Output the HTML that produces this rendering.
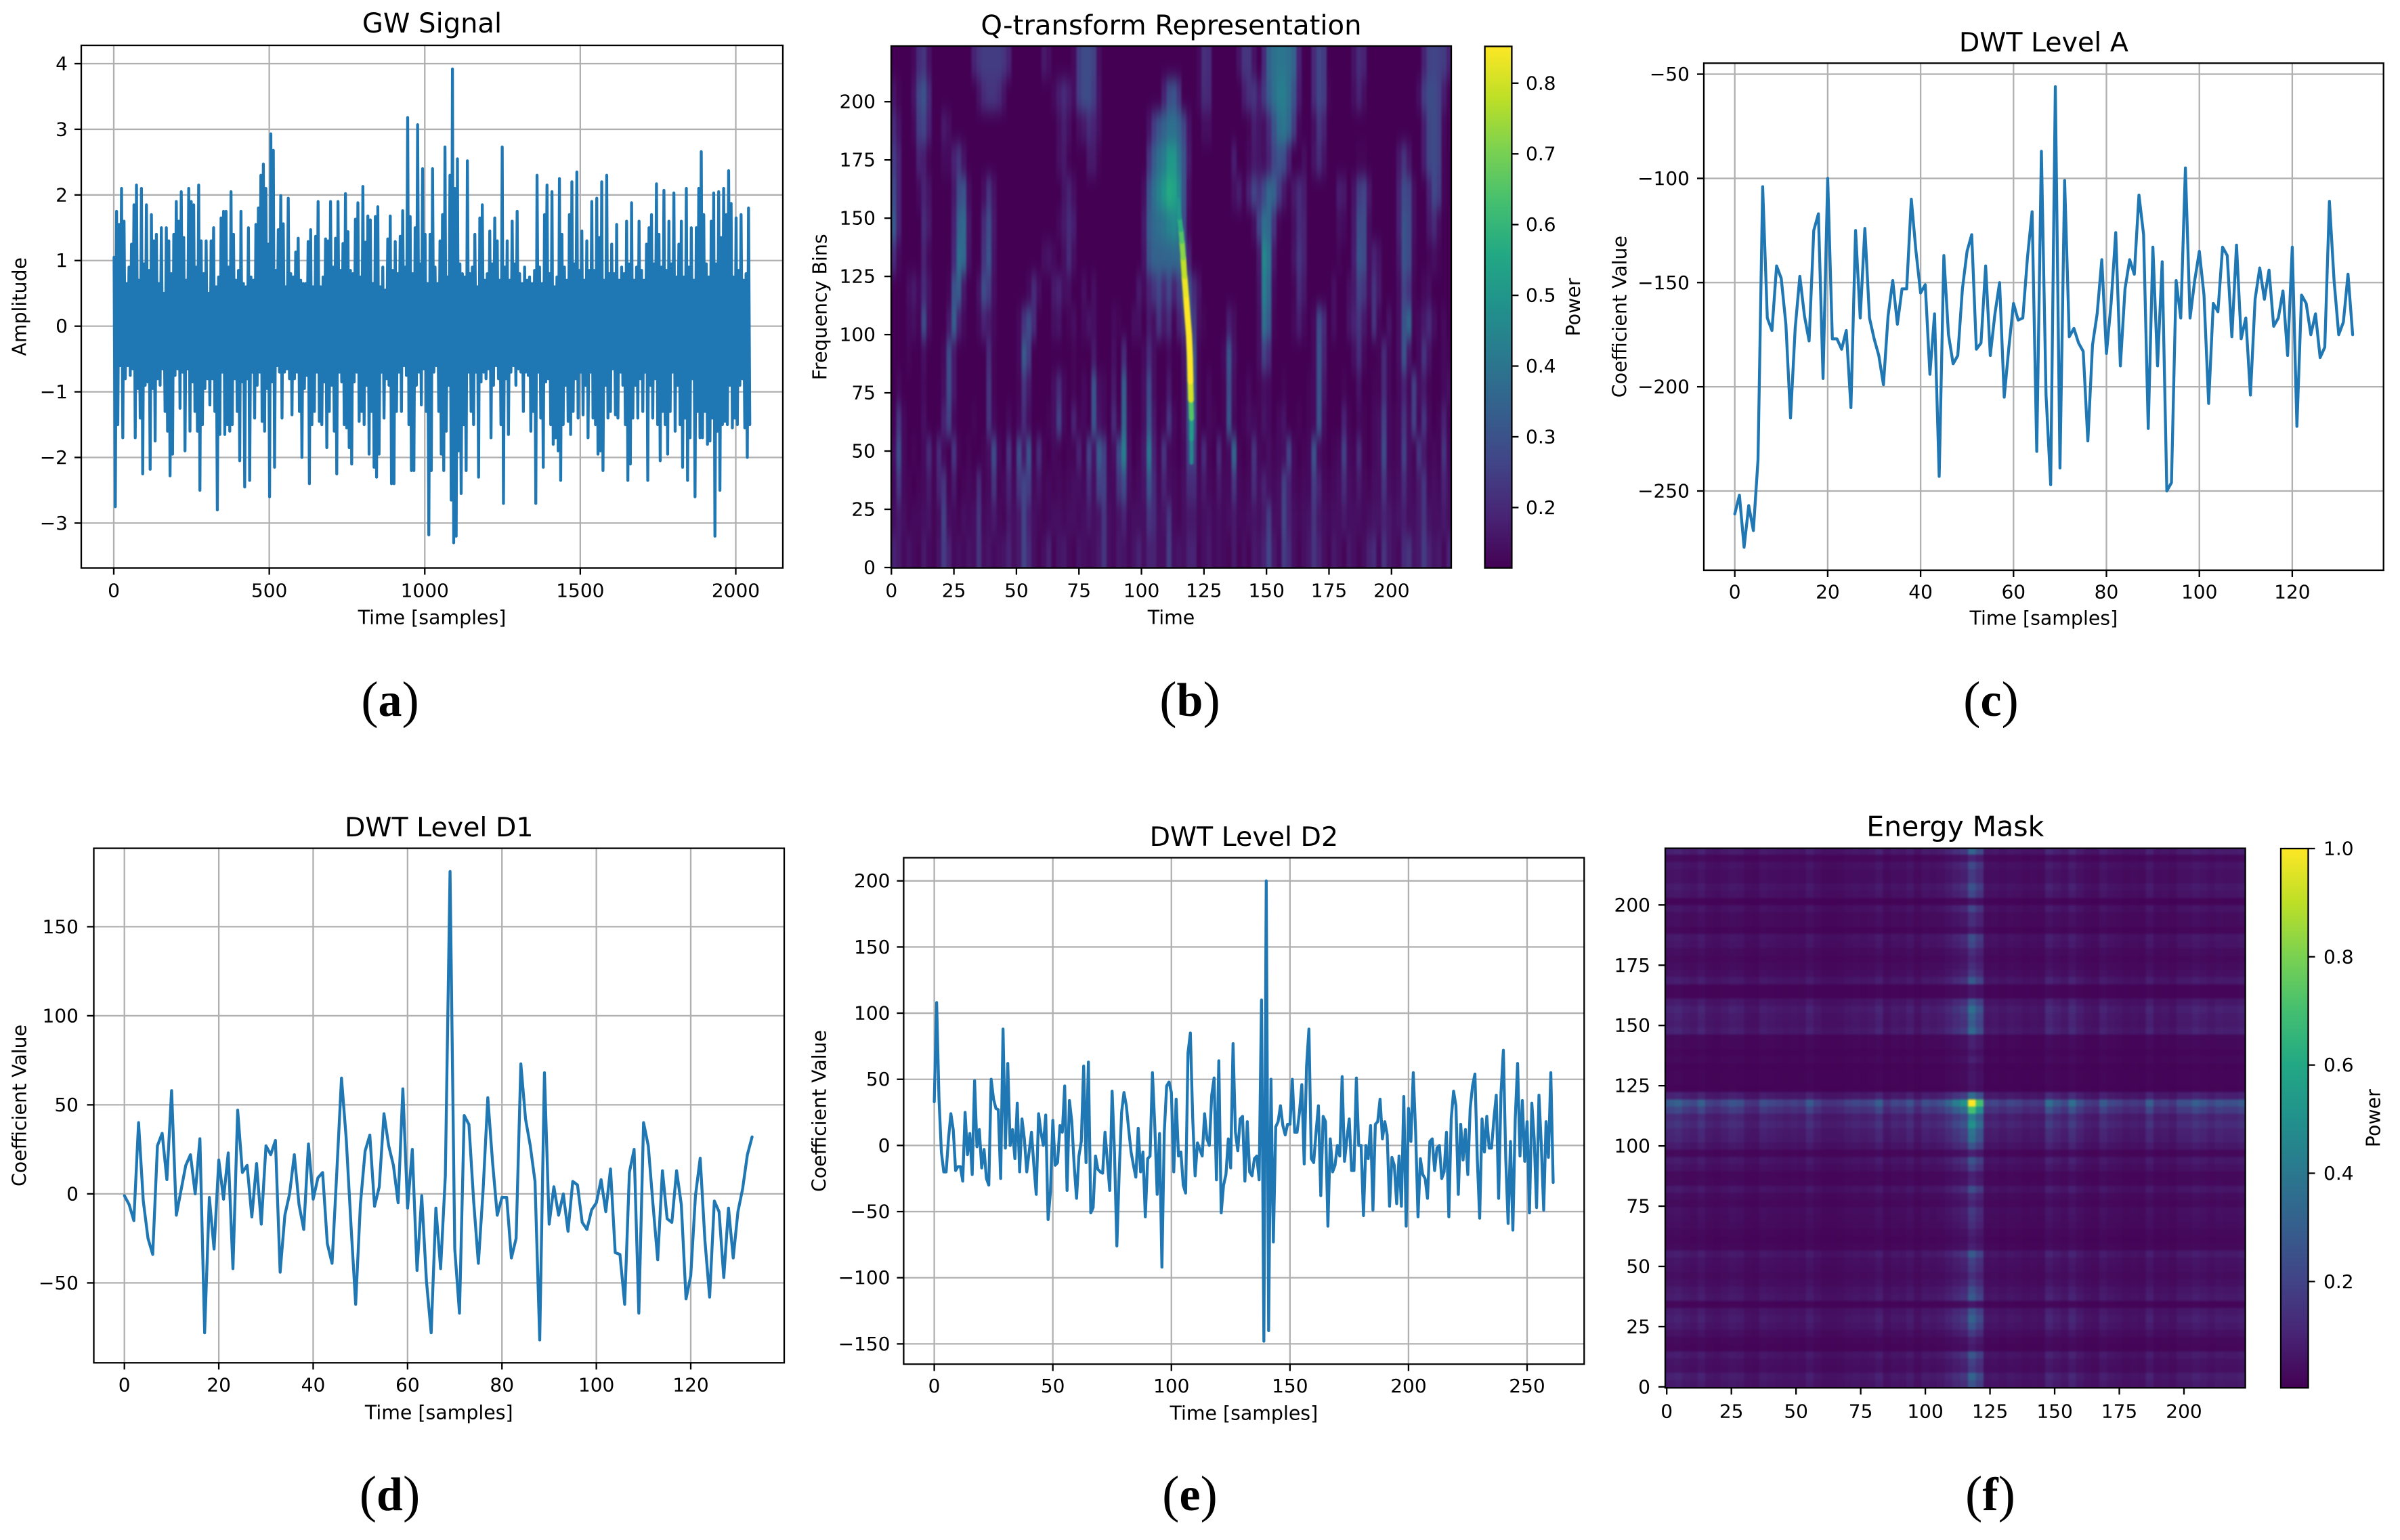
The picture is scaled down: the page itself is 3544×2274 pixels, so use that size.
<!DOCTYPE html>
<html lang="en">
<head>
<meta charset="utf-8">
<title>GW signal panels</title>
<style>
html,body{margin:0;padding:0;background:#fff;}
svg{display:block;}
text{font-family:"DejaVu Sans","Liberation Sans",sans-serif;fill:#000;}
.cap{font-family:"Liberation Serif","DejaVu Serif",serif;}
</style>
</head>
<body>
<svg id="figure" xmlns="http://www.w3.org/2000/svg" width="3544" height="2274" viewBox="0 0 3544 2274">
<defs>
<linearGradient id="viridis-grad" x1="0" y1="1" x2="0" y2="0">
<stop offset="0" stop-color="#440154"/><stop offset="0.1" stop-color="#482475"/><stop offset="0.2" stop-color="#414487"/><stop offset="0.3" stop-color="#355f8d"/><stop offset="0.4" stop-color="#2a788e"/><stop offset="0.5" stop-color="#21918c"/><stop offset="0.6" stop-color="#22a884"/><stop offset="0.7" stop-color="#44bf70"/><stop offset="0.8" stop-color="#7ad151"/><stop offset="0.9" stop-color="#bddf26"/><stop offset="1" stop-color="#fde725"/>
</linearGradient>
<filter id="q-blur" filterUnits="userSpaceOnUse" x="1200" y="0" width="1050" height="950" color-interpolation-filters="sRGB"><feGaussianBlur stdDeviation="1.2 12"/></filter>
<filter id="chirp-blur" filterUnits="userSpaceOnUse" x="1200" y="0" width="1050" height="950" color-interpolation-filters="sRGB"><feGaussianBlur stdDeviation="1.1 1.1"/></filter>
<filter id="mask-blur" filterUnits="userSpaceOnUse" x="2400" y="1200" width="1000" height="900" color-interpolation-filters="sRGB"><feGaussianBlur stdDeviation="1.2 1.2"/></filter>
<clipPath id="clip-q"><rect x="1316" y="68" width="827" height="771"/></clipPath>
<clipPath id="clip-mask"><rect x="2459" y="1253" width="857" height="796"/></clipPath>
</defs>
</svg>
<script>
// ---------- panel (a): GW signal, amplitude extremes read per 8-sample window ----------
const signalUpper = [
1.05,1.75,1.55,2.1,1.6,.65,.9,1.25,1.85,2.15,.7,2.1,.95,1.85,.85,1.7,1.3,1.4,.65,1.5,
.5,1.5,1.3,.8,1.4,1.9,1.6,2.05,1.35,.7,2.1,1.9,1.85,.9,2.15,1.3,.8,1.3,.5,1.3,
1.5,.6,.75,1.65,1.75,1.75,.9,2.05,1.4,.7,.85,1.75,.65,.6,1.5,.75,.7,1.55,1.8,2.3,
2.47,2.1,1.25,2.93,2.68,.85,1.47,1.99,1.56,.6,1.95,.8,.75,1.13,1.34,.7,.65,.65,1.29,1.47,
.6,1.37,1.9,.6,.75,1.33,1.3,1.9,.9,1.34,1.9,.85,1.26,2.02,1.44,.85,.8,1.63,1.88,.75,
2.13,1.28,1.68,1.62,.65,1.67,1.82,.6,.9,.55,1.33,1.68,.85,1.29,.8,1.37,1.76,.9,3.18,1.67,
.8,1.5,3.07,.95,2.4,1.4,.65,1.4,2.4,.9,.65,1.3,1.7,2.73,.75,2.3,3.92,2.1,2.55,.95,
.8,.75,2.52,.8,.9,1.4,.6,1.65,1.85,.7,.8,1.45,.95,1.65,1.3,.7,2.73,.9,1.3,.7,
1.6,.95,1.75,.8,.65,.9,.7,.75,.65,.85,2.3,.9,.65,1.7,2.15,.8,2.05,.6,.75,2.25,
1.4,.9,.7,1.7,2.2,.95,2.35,.85,1.45,.7,1.3,.85,1.9,.85,1.95,1.35,2.2,.7,2.3,.8,
1.25,.8,1.55,.7,.9,.8,1.6,.95,1.88,.7,.9,1.6,.85,.7,1.25,1.5,1.7,.95,2.17,1.4,
.9,2.07,.85,1.6,.95,2.03,.75,1.25,1.6,.75,2.1,.9,1.5,.7,1.5,2.1,2.66,1.7,.95,.75,
1.6,2.03,.95,2.05,1.35,2.1,1.7,2.37,1.87,.75,1.65,.85,1.7,.7,.8,1.8];
const signalLower = [
-2.75,-1.5,-.6,-1.7,-.8,-.6,-.75,-.65,-1.7,-.95,-1.4,-2.25,-.9,-.85,-2.18,-.95,-1.75,-.8,-.9,-.65,
-1.3,-1.6,-2.28,-1.95,-.75,-.65,-1.25,-.7,-1.9,-.65,-1.6,-.85,-1.3,-1.6,-2.5,-1.5,-.95,-.8,-1.2,-.8,
-1.3,-2.8,-1.65,-.7,-1.65,-1.5,-1.6,-1.5,-.8,-1.3,-2.05,-.85,-2.45,-.8,-2.35,-.7,-1.4,-.9,-.7,-1.45,
-1.6,-.95,-2.6,-.85,-2.15,-.6,-.7,-1.4,-.7,-.65,-.8,-1.35,-.8,-.7,-1.3,-2.0,-.95,-.75,-2.4,-1.5,
-1.3,-.7,-1.45,-1.5,-.85,-1.85,-1.3,-.9,-1.6,-2.25,-.7,-.85,-1.5,-1.55,-1.85,-2.1,-.85,-.7,-1.45,-1.3,
-1.5,-.9,-1.95,-1.3,-2.15,-2.3,-1.95,-.7,-1.4,-.8,-.9,-2.4,-2.4,-1.3,-.7,-1.3,-.6,-.75,-1.5,-2.2,
-2.2,-.9,-.7,-1.2,-.65,-1.3,-3.18,-2.2,-.7,-.6,-1.3,-1.95,-2.2,-1.6,-.9,-2.65,-3.3,-3.2,-1.9,-2.55,
-1.5,-2.2,-.7,-1.3,-1.5,-.7,-2.3,-.85,-.7,-.8,-.65,-1.7,-.9,-.6,-.8,-1.5,-2.7,-.8,-1.65,-.7,
-.6,-.9,-.65,-.7,-1.3,-.7,-.75,-1.6,-1.3,-2.7,-.7,-1.4,-2.15,-.85,-.8,-1.5,-1.8,-1.7,-1.9,-2.35,
-1.5,-.9,-1.45,-1.65,-1.3,-.8,-1.4,-.7,-1.35,-.9,-1.7,-.7,-1.4,-1.5,-1.95,-1.9,-2.2,-.9,-1.4,-1.3,
-.65,-1.35,-1.4,-.7,-.9,-1.5,-2.35,-2.1,-1.4,-.9,-1.4,-.8,-1.3,-.7,-2.35,-.9,-1.4,-.8,-1.5,-2.05,
-1.3,-1.5,-1.95,-1.3,-.7,-1.6,-.9,-1.5,-2.15,-1.4,-2.35,-1.7,-.8,-2.6,-1.3,-1.7,-1.7,-1.3,-1.8,-1.75,
-1.4,-3.2,-1.6,-2.5,-1.5,-1.45,-1.5,-.9,-1.55,-1.4,-1.5,-.9,-.8,-1.55,-2.0,-1.5];
const signalXTicks = [0,500,1000,1500,2000];
const signalYTicks = [-3,-2,-1,0,1,2,3,4];

// ---------- panel (b): Q-transform power x100, 16 frequency bands (top to bottom) x 112 time columns ----------
const qPower = [
[11,11,11,11,13,20,22,15,11,11,11,11,11,11,11,11,18,22,24,24,24,24,22,18,11,11,11,11,11,11,16,14,11,11,11,11,13,24,28,28,25,14,11,11,11,11,11,11,11,11,11,11,11,11,11,11,11,11,11,11,11,13,21,20,11,11,11,11,11,15,22,22,15,11,20,34,38,40,40,38,34,18,11,11,20,26,24,11,11,11,11,11,15,20,18,11,11,11,11,11,11,11,11,11,11,11,18,25,26,25,24,18],
[15,12,11,11,15,26,30,20,11,11,11,11,11,11,11,11,11,15,20,22,22,20,15,11,11,11,11,11,11,11,11,11,13,17,20,17,14,24,28,28,24,15,11,11,11,11,11,11,11,11,11,11,11,11,18,28,30,22,11,11,11,13,20,19,11,11,11,11,11,11,17,21,22,17,23,32,38,42,42,38,30,17,11,11,20,26,24,12,11,11,11,11,14,18,14,11,11,11,11,11,11,11,11,11,11,14,24,28,28,25,17,12],
[20,15,11,11,13,24,26,18,11,11,16,14,11,11,11,11,11,11,11,11,11,11,11,11,11,11,11,11,11,11,11,11,11,14,17,14,11,14,16,20,18,14,11,11,11,11,11,11,11,11,11,15,24,30,34,38,38,34,26,15,11,11,14,14,11,11,11,11,11,11,11,12,17,15,14,20,30,38,40,36,24,13,11,11,14,22,18,11,11,11,11,11,11,11,11,11,11,11,11,11,11,11,11,11,11,11,17,26,28,25,13,11],
[24,18,11,11,11,18,17,12,11,11,13,13,18,22,15,11,11,11,11,11,11,11,11,11,11,11,11,11,11,11,11,11,11,14,16,12,11,11,11,16,16,12,11,11,11,11,11,11,11,11,11,22,32,38,42,50,50,40,30,16,11,11,11,11,11,11,11,11,17,11,11,13,16,15,14,18,26,30,28,18,11,11,14,11,15,20,15,11,11,11,11,11,11,12,12,11,11,11,11,11,11,16,22,16,11,11,17,26,28,25,12,11],
[28,18,11,11,11,13,18,15,11,11,11,11,16,28,30,14,11,11,14,22,15,11,11,11,11,11,11,11,11,11,11,11,11,11,15,18,14,11,11,11,11,11,11,11,11,11,11,11,11,11,14,30,38,44,50,56,54,46,30,14,11,11,11,11,11,11,11,11,14,17,12,18,26,22,28,36,34,24,16,12,16,20,17,11,11,11,11,11,11,17,16,11,15,24,26,16,11,11,11,11,11,18,28,26,14,11,11,18,27,24,12,11],
[32,18,11,11,11,11,20,16,11,11,11,11,18,34,36,16,11,11,20,28,16,11,11,11,11,11,11,11,11,11,11,11,11,13,16,20,17,11,11,11,11,11,11,11,11,11,11,11,11,11,16,32,36,38,40,44,46,42,28,13,11,11,11,11,11,11,11,11,11,11,11,11,14,26,38,36,22,12,11,11,14,20,18,11,11,11,11,11,11,14,13,11,16,28,28,14,11,11,11,11,11,18,30,28,14,11,11,16,20,14,11,11],
[20,13,11,11,11,11,18,13,11,11,11,11,20,38,36,15,11,11,22,30,15,11,11,11,11,11,11,11,11,11,14,15,13,11,14,20,14,11,11,11,11,11,11,11,11,11,11,11,11,11,15,30,34,34,35,35,36,36,34,18,11,11,11,11,11,11,11,11,11,11,11,11,11,16,45,40,16,11,11,11,15,22,18,11,11,11,11,11,11,12,11,11,17,30,28,14,18,15,11,11,11,16,30,28,13,11,11,12,14,12,11,11],
[11,11,11,14,16,13,20,15,11,11,11,12,30,32,16,11,11,15,28,24,14,11,11,11,11,11,11,13,20,14,11,11,16,18,14,14,11,11,14,11,14,11,11,11,11,11,11,11,11,16,13,18,22,26,20,26,18,24,30,30,20,15,11,11,11,11,11,11,11,11,11,11,11,15,42,36,13,11,11,11,12,20,16,11,11,11,11,11,14,11,11,14,16,25,22,14,22,16,11,11,11,14,26,22,12,11,13,14,11,11,11,11],
[11,11,11,13,14,12,28,14,11,11,11,16,33,18,13,11,11,13,18,16,13,11,11,11,11,13,22,28,20,11,11,11,14,15,11,12,14,11,13,15,14,11,11,11,13,12,11,11,14,14,11,16,14,22,16,20,12,18,22,32,24,14,12,11,11,11,11,17,14,11,11,11,11,14,38,32,12,11,11,11,13,17,13,11,13,28,20,11,14,11,11,15,18,22,16,12,22,13,11,15,11,14,30,35,12,13,16,20,14,11,13,11],
[11,11,11,12,11,11,14,11,11,11,13,28,16,11,11,11,11,11,11,20,12,11,11,11,11,13,32,24,11,11,11,11,11,11,11,11,12,11,11,11,16,11,11,11,14,11,20,11,11,11,13,20,14,11,11,13,11,11,15,32,30,12,11,11,11,11,13,30,15,11,11,11,11,14,25,20,11,11,11,11,11,11,11,11,13,30,18,11,11,11,11,11,14,20,13,11,11,12,20,13,11,14,30,16,11,13,22,15,11,11,13,12],
[11,13,11,11,11,11,13,11,11,11,14,28,16,11,11,11,11,11,11,22,12,11,11,11,11,12,22,16,11,11,11,11,14,20,13,11,12,11,13,11,30,14,13,11,16,11,33,12,11,11,14,27,14,11,11,16,11,11,14,30,30,12,11,13,11,11,12,28,14,11,11,13,11,12,14,13,11,11,12,11,11,11,11,12,13,30,16,11,11,11,12,11,11,15,11,11,12,12,20,13,11,13,18,13,25,14,16,12,11,11,13,14],
[12,22,13,11,11,11,14,11,11,11,18,25,13,11,11,11,12,11,11,22,13,11,11,13,11,13,20,14,11,11,11,12,14,25,13,11,18,12,13,11,30,15,13,11,20,12,35,13,11,11,14,30,16,11,12,22,13,11,14,30,30,12,11,13,12,11,12,30,13,11,12,14,13,12,15,13,11,13,15,11,11,12,11,12,13,30,14,11,11,11,18,12,11,13,12,11,13,14,25,13,12,13,22,14,25,13,22,13,11,12,18,12],
[14,28,13,11,12,11,13,20,12,20,13,11,22,12,11,12,11,11,12,14,28,13,11,22,12,28,16,30,12,20,12,11,13,12,11,12,12,18,12,25,15,32,25,12,14,28,42,14,11,12,16,40,18,12,22,13,12,11,13,25,25,12,20,12,11,20,12,13,35,12,11,12,22,13,12,14,12,13,14,25,13,11,12,13,30,14,12,11,12,13,25,13,12,20,12,11,13,14,28,13,12,13,25,14,12,22,16,12,13,12,22,13],
[13,22,13,12,11,12,13,16,12,18,22,12,16,11,12,13,12,20,12,13,22,12,13,18,13,22,26,24,13,15,12,13,12,13,12,13,14,14,13,20,14,25,25,13,13,22,28,14,12,13,15,30,20,13,18,14,13,12,14,20,20,13,16,13,12,16,13,13,22,13,12,13,20,14,18,14,13,14,25,18,13,12,13,13,24,18,13,12,13,14,20,14,13,16,13,12,14,14,22,14,13,14,20,14,13,16,22,13,14,13,18,14],
[14,16,14,12,13,13,14,15,12,14,25,14,13,12,14,13,14,22,13,14,16,13,12,16,14,16,26,18,14,13,12,13,14,14,13,14,14,13,14,16,14,15,22,14,13,15,18,13,14,14,14,22,20,14,15,22,13,12,14,16,16,13,14,15,13,14,13,14,16,13,13,14,15,14,16,24,14,14,26,18,14,13,14,15,22,16,14,13,14,14,16,14,14,14,13,14,15,15,18,16,14,15,17,14,14,16,22,15,14,14,16,14],
[18,16,13,15,13,12,16,13,12,15,24,18,13,14,13,15,14,22,14,15,13,14,15,18,14,16,26,20,14,12,14,18,12,15,16,13,12,15,14,13,14,16,22,14,13,16,15,13,15,18,14,18,18,14,14,24,14,15,14,18,18,12,14,16,13,14,13,12,16,12,14,12,16,15,18,26,16,13,24,20,14,12,14,16,22,18,14,12,16,14,12,16,14,12,14,18,20,13,22,16,14,13,20,22,15,16,24,18,15,16,13,18]
];
const chirpTime = [120,120,120,119.8,119.6,119.4,119,118.4,117.8,117.2,116.7,116.2,115.8,115.2,114.6];
const chirpFreq = [45,55,64,72,80,90,100,108,117,125,133,140,145,150,158];
const chirpPower = [.37,.45,.52,.65,.8,.85,.85,.85,.85,.83,.78,.72,.65,.58,.5];
const qXTicks = [0,25,50,75,100,125,150,175,200];
const qYTicks = [0,25,50,75,100,125,150,175,200];
const qColorbarTicks = [0.2,0.3,0.4,0.5,0.6,0.7,0.8];

// ---------- panel (c): DWT level A ----------
const dwtA = [-261,-252,-277,-257,-269,-235,-104,-167,-173,-142,-148,-170,-215,-172,-147,-166,-178,-125,-117,-196,-100,-177,-177,-182,-173,-210,-125,-167,-124,-167,-177,-185,-199,-166,-149,-170,-153,-153,-110,-135,-155,-151,-194,-165,-243,-137,-175,-189,-185,-153,-135,-127,-182,-179,-142,-185,-165,-150,-205,-181,-160,-168,-167,-138,-116,-231,-87,-204,-247,-56,-239,-101,-176,-172,-179,-183,-226,-180,-165,-139,-184,-160,-126,-190,-153,-139,-146,-108,-127,-220,-133,-190,-140,-250,-246,-149,-167,-95,-167,-149,-135,-156,-208,-160,-164,-133,-137,-176,-132,-177,-167,-204,-158,-143,-158,-144,-171,-167,-154,-185,-133,-219,-156,-160,-175,-165,-186,-181,-111,-149,-175,-169,-146,-175];
const dwtAXTicks = [0,20,40,60,80,100,120];
const dwtAYTicks = [-250,-200,-150,-100,-50];

// ---------- panel (d): DWT level D1 ----------
const dwtD1 = [-1,-6,-15,40,-4,-25,-34,27,34,8,58,-12,2,16,22,0,31,-78,-2,-31,19,-3,23,-42,47,12,16,-13,17,-17,27,22,30,-44,-12,0,22,-6,-20,28,-3,9,12,-28,-39,12,65,31,-17,-62,-6,24,33,-7,4,45,27,16,-5,59,-8,25,-43,-1,-49,-78,-8,-42,10,181,-31,-67,44,39,-4,-39,2,54,18,-12,-2,-2,-36,-25,73,42,27,7,-82,68,-17,4,-12,0,-21,7,5,-16,-20,-9,-5,8,-10,14,-33,-34,-62,12,25,-67,40,27,-6,-37,13,-14,-16,13,-6,-59,-46,-1,20,-26,-58,-4,-10,-47,-8,-36,-10,3,22,32];
const dwtD1XTicks = [0,20,40,60,80,100,120];
const dwtD1YTicks = [-50,0,50,100,150];

// ---------- panel (e): DWT level D2 ----------
const dwtD2 = [33,108,35,-5,-20,-20,5,24,12,-19,-16,-16,-27,25,-7,9,-22,49,-1,12,-17,-3,-25,-30,50,35,28,27,-25,88,-2,62,0,12,-10,32,-20,20,5,-20,-5,10,-15,-37,24,10,0,23,-56,-35,19,-15,-13,15,10,45,-34,34,18,-15,-40,-8,3,60,-13,63,-51,-47,-8,-18,-20,-21,10,-12,-34,41,-5,-76,-20,25,40,30,12,-5,-15,-24,13,-20,-5,-54,-10,-8,55,15,-37,9,-92,10,45,48,40,-20,35,-8,-5,-30,-36,70,85,20,-23,2,-3,-8,24,5,0,38,51,-26,64,-51,-30,-22,5,-17,77,10,-4,20,22,-27,18,-20,-23,-10,-8,-26,110,-148,200,-140,50,-73,14,18,30,15,8,16,16,50,10,10,25,46,-14,60,88,-10,-13,10,30,-38,22,18,-61,5,-20,-15,0,-8,52,-12,5,20,-19,-19,51,0,0,-53,0,-10,15,-49,16,18,35,5,18,8,-46,-9,-15,-44,-8,-46,37,-61,28,3,55,10,-54,-10,-22,-25,-40,3,5,-19,-2,0,-25,-20,10,-54,20,41,30,-37,16,-11,12,-22,28,45,54,-10,-55,20,-5,22,-2,-2,20,38,-40,40,72,-10,-59,3,-64,20,62,-8,34,-12,18,-51,32,5,-47,38,0,-49,18,-9,55,-28];
const dwtD2XTicks = [0,50,100,150,200,250];
const dwtD2YTicks = [-150,-100,-50,0,50,100,150,200];

// ---------- panel (f): energy mask profiles, per 3-bin step ----------
const maskTimeEnergy = [.28,.31,.24,.21,.3,.19,.17,.21,.26,.24,.15,.14,.24,.21,.19,.17,.19,.17,.28,.19,.14,.14,.15,.19,.21,.19,.21,.3,.15,.21,.19,.26,.15,.24,.21,.24,.32,.42,.5,1.0,.7,.19,.21,.17,.21,.19,.15,.17,.15,.36,.27,.21,.36,.24,.17,.15,.28,.21,.19,.15,.17,.15,.3,.17,.19,.15,.24,.24,.3,.26,.21,.26,.24,.24,.28];
const maskFreqEnergy = [.26,.32,.17,.19,.27,.07,.09,.17,.26,.31,.26,.06,.28,.24,.17,.13,.17,.19,.28,.09,.07,.09,.13,.15,.17,.1,.13,.24,.1,.09,.19,.26,.09,.26,.36,.38,.5,.42,.7,1.0,.35,.05,.06,.06,.05,.09,.06,.09,.09,.34,.28,.3,.36,.26,.06,.06,.28,.17,.13,.1,.13,.21,.24,.07,.13,.13,.21,.05,.21,.26,.17,.17,.22,.1,.32];
const maskXTicks = [0,25,50,75,100,125,150,175,200];
const maskYTicks = [0,25,50,75,100,125,150,175,200];
const maskColorbarTicks = [0.2,0.4,0.6,0.8,1.0];

const NS = 'http://www.w3.org/2000/svg';
const figure = document.getElementById('figure');
const viridisStops = ['#440154','#482475','#414487','#355f8d','#2a788e','#21918c','#22a884','#44bf70','#7ad151','#bddf26','#fde725']
  .map(h => [parseInt(h.slice(1,3),16),parseInt(h.slice(3,5),16),parseInt(h.slice(5,7),16)]);

function viridis(t){
  const u = Math.max(0,Math.min(1,t))*10, i = Math.min(9,Math.floor(u)), f = u-i;
  const a = viridisStops[i], b = viridisStops[i+1];
  return 'rgb('+[0,1,2].map(k=>Math.round(a[k]+(b[k]-a[k])*f)).join(',')+')';
}
function linear(d0,d1,r0,r1){ return v => r0+(v-d0)*(r1-r0)/(d1-d0); }
function make(parent,tag,attrs,txt){
  const el = document.createElementNS(NS,tag);
  for(const k in attrs) el.setAttribute(k,attrs[k]);
  if(txt!==undefined) el.textContent = txt;
  parent.appendChild(el);
  return el;
}
function fmt(v,dec){ return (dec?v.toFixed(dec):String(v)).replace('-','\u2212'); }

function drawFrame(p,layer){
  const g = make(layer,'g',{});
  
  
  const mid = (p.left+p.right)/2;
  p.xTicks.forEach(v=>{
    const X = p.x(v);
    if(p.grid){
      const gl = make(g,'line',{x1:X,x2:X,y1:p.top,y2:p.bottom,stroke:'#b0b0b0','stroke-width':2.3});
      
      
    }
    const tk = make(p.over,'line',{x1:X,x2:X,y1:p.bottom,y2:p.bottom+10,stroke:'#000','stroke-width':2.3});
    
    
    const tl = make(p.over,'text',{x:X,y:p.xTickY,'font-size':28,'text-anchor':'middle','dominant-baseline':'central'},fmt(v));
    
    
  });
  p.yTicks.forEach(v=>{
    const Y = p.y(v);
    if(p.grid){
      const gl = make(g,'line',{x1:p.left,x2:p.right,y1:Y,y2:Y,stroke:'#b0b0b0','stroke-width':2.3});
      
      
    }
    const tk = make(p.over,'line',{x1:p.left-10,x2:p.left,y1:Y,y2:Y,stroke:'#000','stroke-width':2.3});
    
    
    const tl = make(p.over,'text',{x:p.yTickX,y:Y,'font-size':28,'text-anchor':'end','dominant-baseline':'central'},fmt(v));
    
    
  });
  const spine = make(p.over,'rect',{x:p.left,y:p.top,width:p.right-p.left,height:p.bottom-p.top,fill:'none',stroke:'#000','stroke-width':2.3});
  
  
  const title = make(p.over,'text',{x:mid,y:p.titleY,'font-size':p.titleSize||39.5,'text-anchor':'middle','dominant-baseline':'central'},p.title);
  
  
  if(p.xLabel){
    const xl = make(p.over,'text',{x:mid,y:p.xLabelY,'font-size':28.4,'text-anchor':'middle','dominant-baseline':'central'},p.xLabel);
    
    
  }
  if(p.yLabel){
    const cy = (p.top+p.bottom)/2;
    const yl = make(p.over,'text',{x:p.yLabelX,y:cy,'font-size':28.4,'text-anchor':'middle','dominant-baseline':'central',transform:'rotate(-90 '+p.yLabelX+' '+cy+')'},p.yLabel);
    
    
  }
}

function makePanel(p){
  p.root = make(figure,'g',{});
  
  
  p.under = make(p.root,'g',{});
  p.marks = make(p.root,'g',{});
  p.over = make(p.root,'g',{});
  drawFrame(p,p.under);
  return p;
}

function drawSeries(p,values){
  let d = '';
  values.forEach((v,i)=>{ d += (i?'L':'M')+p.x(i).toFixed(2)+' '+p.y(v).toFixed(2); });
  const line = make(p.marks,'path',{d:d,fill:'none',stroke:'#1f77b4','stroke-width':4.3,'stroke-linejoin':'round','stroke-linecap':'round'});
  
  
}

function drawColorbar(p,c){
  const sc = linear(c.min,c.max,c.bottom,c.top);
  const g = make(p.root,'g',{});
  
  
  const bar = make(g,'rect',{x:c.left,y:c.top,width:c.right-c.left,height:c.bottom-c.top,fill:'url(#viridis-grad)',stroke:'#000','stroke-width':2.3});
  
  
  c.ticks.forEach(v=>{
    const Y = sc(v);
    const tk = make(g,'line',{x1:c.right,x2:c.right+10,y1:Y,y2:Y,stroke:'#000','stroke-width':2.3});
    
    
    const tl = make(g,'text',{x:c.labelX,y:Y,'font-size':28,'dominant-baseline':'central'},v.toFixed(1));
    
    
  });
  const cy = (c.top+c.bottom)/2;
  const lab = make(g,'text',{x:c.titleX,y:cy,'font-size':28.4,'text-anchor':'middle','dominant-baseline':'central',transform:'rotate(-90 '+c.titleX+' '+cy+')'},'Power');
  
  
}

function drawCaption(letter,x,y,name){
  const t = make(figure,'text',{x:x,y:y,'text-anchor':'middle','dominant-baseline':'central',class:'cap'});
  
  
  make(t,'tspan',{'font-size':76,'font-weight':400},'(');
  make(t,'tspan',{'font-size':70,'font-weight':700},letter);
  make(t,'tspan',{'font-size':76,'font-weight':400},')');
}

// (a)
const panelA = makePanel({id:'gw-signal',left:120,right:1156,top:67,bottom:838.6,grid:true,
  x:linear(0,2000,168,1086.5),y:linear(-3,4,772.4,94),xTicks:signalXTicks,yTicks:signalYTicks,
  title:'GW Signal',titleY:35,titleSize:40,xLabel:'Time [samples]',xLabelY:912,yLabel:'Amplitude',yLabelX:29,yTickX:100,xTickY:872});
(function(){
  let d = '';
  signalUpper.forEach((u,i)=>{
    d += (i?'L':'M')+panelA.x(i*8+1).toFixed(2)+' '+panelA.y(u).toFixed(2);
    d += 'L'+panelA.x(i*8+5).toFixed(2)+' '+panelA.y(signalLower[i]).toFixed(2);
  });
  const line = make(panelA.marks,'path',{d:d,fill:'none',stroke:'#1f77b4','stroke-width':4.3,'stroke-linejoin':'round','stroke-linecap':'round'});
  
  
})();

// (b)
const panelB = makePanel({id:'q-transform',left:1316,right:2143,top:68,bottom:838.6,grid:false,
  x:linear(0,200,1316.3,2054.8),y:linear(0,200,838,150.2),xTicks:qXTicks,yTicks:qYTicks,
  title:'Q-transform Representation',titleY:38,titleSize:40.2,xLabel:'Time',xLabelY:912,yLabel:'Frequency Bins',yLabelX:1211,yTickX:1293,xTickY:872});
(function(){
  const clip = make(panelB.marks,'g',{'clip-path':'url(#clip-q)'});
  
  
  const base = make(clip,'rect',{x:1316,y:68,width:827,height:771,fill:viridis(0)});
  
  
  const blur = make(clip,'g',{filter:'url(#q-blur)','shape-rendering':'crispEdges'});
  const rows = qPower.length, bandBins = 224/rows;
  qPower.forEach((row,r)=>{
    const binW = 224/row.length;
    const yTop = panelB.y(224-r*bandBins) - (r===0?50:0);
    const yBot = panelB.y(224-(r+1)*bandBins) + (r===rows-1?50:0);
    row.forEach((val,c)=>{
      const x0 = panelB.x(c*binW), x1 = panelB.x((c+1)*binW);
      const cell = make(blur,'rect',{x:x0.toFixed(2),y:yTop.toFixed(2),width:(x1-x0+.5).toFixed(2),height:(yBot-yTop+.5).toFixed(2),fill:viridis((val/100-.11)/.74)});
      
      
    });
  });
  const ridge = make(clip,'g',{filter:'url(#chirp-blur)',fill:'none','stroke-linecap':'round'});
  
  
  chirpTime.forEach((t,i)=>{
    if(i===0) return;
    const seg = make(ridge,'line',{x1:panelB.x(chirpTime[i-1]).toFixed(2),y1:panelB.y(chirpFreq[i-1]).toFixed(2),x2:panelB.x(t).toFixed(2),y2:panelB.y(chirpFreq[i]).toFixed(2),stroke:viridis((chirpPower[i]-.11)/.74),'stroke-width':(2.5+chirpPower[i]*7.5).toFixed(2)});
    
    
  });
})();
drawColorbar(panelB,{left:2192.6,right:2232.4,top:68.5,bottom:838.6,min:.1146,max:.852,ticks:qColorbarTicks,labelX:2253,titleX:2323.5});

// (c)
const panelC = makePanel({id:'dwt-level-a',left:2516,right:3519.7,top:93.3,bottom:842,grid:true,
  x:linear(0,120,2561.7,3384.9),y:linear(-250,-50,725,109.5),xTicks:dwtAXTicks,yTicks:dwtAYTicks,
  title:'DWT Level A',titleY:63,xLabel:'Time [samples]',xLabelY:913,yLabel:'Coefficient Value',yLabelX:2392,yTickX:2495,xTickY:874});
drawSeries(panelC,dwtA);

// (d)
const panelD = makePanel({id:'dwt-level-d1',left:138.5,right:1158,top:1252.6,bottom:2012.3,grid:true,
  x:linear(0,120,183.7,1020),y:linear(-50,150,1894.4,1368.4),xTicks:dwtD1XTicks,yTicks:dwtD1YTicks,
  title:'DWT Level D1',titleY:1222,xLabel:'Time [samples]',xLabelY:2086,yLabel:'Coefficient Value',yLabelX:29,yTickX:116,xTickY:2045});
drawSeries(panelD,dwtD1);

// (e)
const panelE = makePanel({id:'dwt-level-d2',left:1334.4,right:2339.3,top:1266.5,bottom:2014.4,grid:true,
  x:linear(0,250,1379.6,2255),y:linear(-150,200,1984.4,1300.7),xTicks:dwtD2XTicks,yTicks:dwtD2YTicks,
  title:'DWT Level D2',titleY:1236,xLabel:'Time [samples]',xLabelY:2087,yLabel:'Coefficient Value',yLabelX:1210,yTickX:1314.5,xTickY:2046.5});
drawSeries(panelE,dwtD2);

// (f)
const panelF = makePanel({id:'energy-mask',left:2459,right:3315.6,top:1252.6,bottom:2049.3,grid:false,
  x:linear(0,200,2461.2,3225),y:linear(0,200,2047.9,1336.3),xTicks:maskXTicks,yTicks:maskYTicks,
  title:'Energy Mask',titleY:1220.5,titleSize:41,yTickX:2437,xTickY:2084});
(function(){
  const clip = make(panelF.marks,'g',{'clip-path':'url(#clip-mask)'});
  
  
  const blur = make(clip,'g',{filter:'url(#mask-blur)','shape-rendering':'crispEdges'});
  const nc = maskTimeEnergy.length, nr = maskFreqEnergy.length;
  maskFreqEnergy.forEach((fe,r)=>{
    const yTop = panelF.y((r+1)*224/nr), yBot = panelF.y(r*224/nr);
    maskTimeEnergy.forEach((te,c)=>{
      const x0 = panelF.x(c*224/nc), x1 = panelF.x((c+1)*224/nc);
      const cell = make(blur,'rect',{x:(x0-(c===0?6:0)).toFixed(2),y:(yTop-(r===nr-1?6:0)).toFixed(2),width:(x1-x0+.5+(c===0||c===nc-1?6:0)).toFixed(2),height:(yBot-yTop+.5+(r===0||r===nr-1?6:0)).toFixed(2),fill:viridis(fe*te)});
      
      
    });
  });
})();
drawColorbar(panelF,{left:3368,right:3408.5,top:1253,bottom:2049.3,min:.0035,max:1,ticks:maskColorbarTicks,labelX:3431,titleX:3505});

// sub-figure captions
drawCaption('a',576,1034,'caption-a');
drawCaption('b',1757,1034,'caption-b');
drawCaption('c',2940,1034,'caption-c');
drawCaption('d',575.5,2207,'caption-d');
drawCaption('e',1757,2207,'caption-e');
drawCaption('f',2939,2207,'caption-f');
</script>
</body>
</html>
